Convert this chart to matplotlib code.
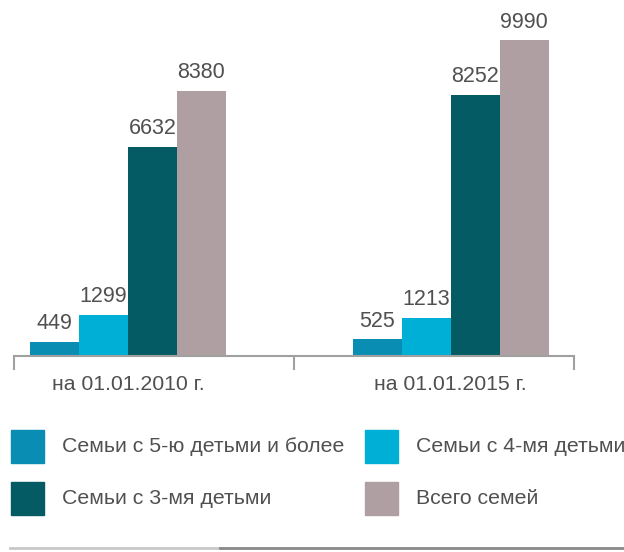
import matplotlib
matplotlib.use('Agg')
import matplotlib.pyplot as plt
from matplotlib.patches import Rectangle
from matplotlib.lines import Line2D

# данные
dates = ['на 01.01.2010 г.', 'на 01.01.2015 г.']
series = ['Семьи с 5-ю детьми и более', 'Семьи с 4-мя детьми',
          'Семьи с 3-мя детьми', 'Всего семей']
v2010 = [449, 1299, 6632, 8380]
v2015 = [525, 1213, 8252, 9990]
colors = ['#0a8db3', '#00afd6', '#055b64', '#b09fa2']

plt.rcParams['font.family'] = ['Liberation Sans', 'DejaVu Sans']
txt = '#505050'

fig = plt.figure(figsize=(6.24, 5.52), dpi=100)
ax = fig.add_axes([14/624, 1-356/552, 560/624, 356/552])

w = 0.175
starts = [0.057, 1.21]
for g, vals in enumerate([v2010, v2015]):
    for i, v in enumerate(vals):
        x = starts[g] + i*w
        ax.bar(x, v, width=w, align='edge', color=colors[i], linewidth=0)
        ax.text(x + w/2, v + 250, str(v), ha='center', va='bottom',
                fontsize=15.5, color=txt)
    ax.text(starts[g] + 2*w, -900, dates[g], ha='center', va='center',
            fontsize=15.3, color=txt)

ax.set_xlim(0, 2)
ax.set_ylim(0, 11270)
ax.set_xticks([0, 1, 2])
ax.set_xticklabels([])
ax.set_yticks([])
for s in ['top', 'right', 'left']:
    ax.spines[s].set_visible(False)
ax.spines['bottom'].set_color('#a0a0a0')
ax.spines['bottom'].set_linewidth(1.5)
ax.tick_params(axis='x', length=10, width=1.5, color='#a0a0a0', direction='out')

# легенда
pos = [(11, 430), (365, 430), (11, 482), (365, 482)]
for i, (px, py) in enumerate(pos):
    fig.patches.append(Rectangle((px/624, 1-(py+33)/552), 33/624, 33/552,
                                 transform=fig.transFigure, color=colors[i]))
    fig.text((px+51)/624, 1-(py+17)/552, series[i], ha='left', va='center',
             fontsize=15.3, color=txt)

fig.lines.append(Line2D([10/624, 220/624], [1-548/552]*2, transform=fig.transFigure,
                        color='#c8c8c8', lw=2))
fig.lines.append(Line2D([220/624, 1], [1-548/552]*2, transform=fig.transFigure,
                        color='#8a8a8a', lw=2))

fig.savefig('out.png', dpi=100)
